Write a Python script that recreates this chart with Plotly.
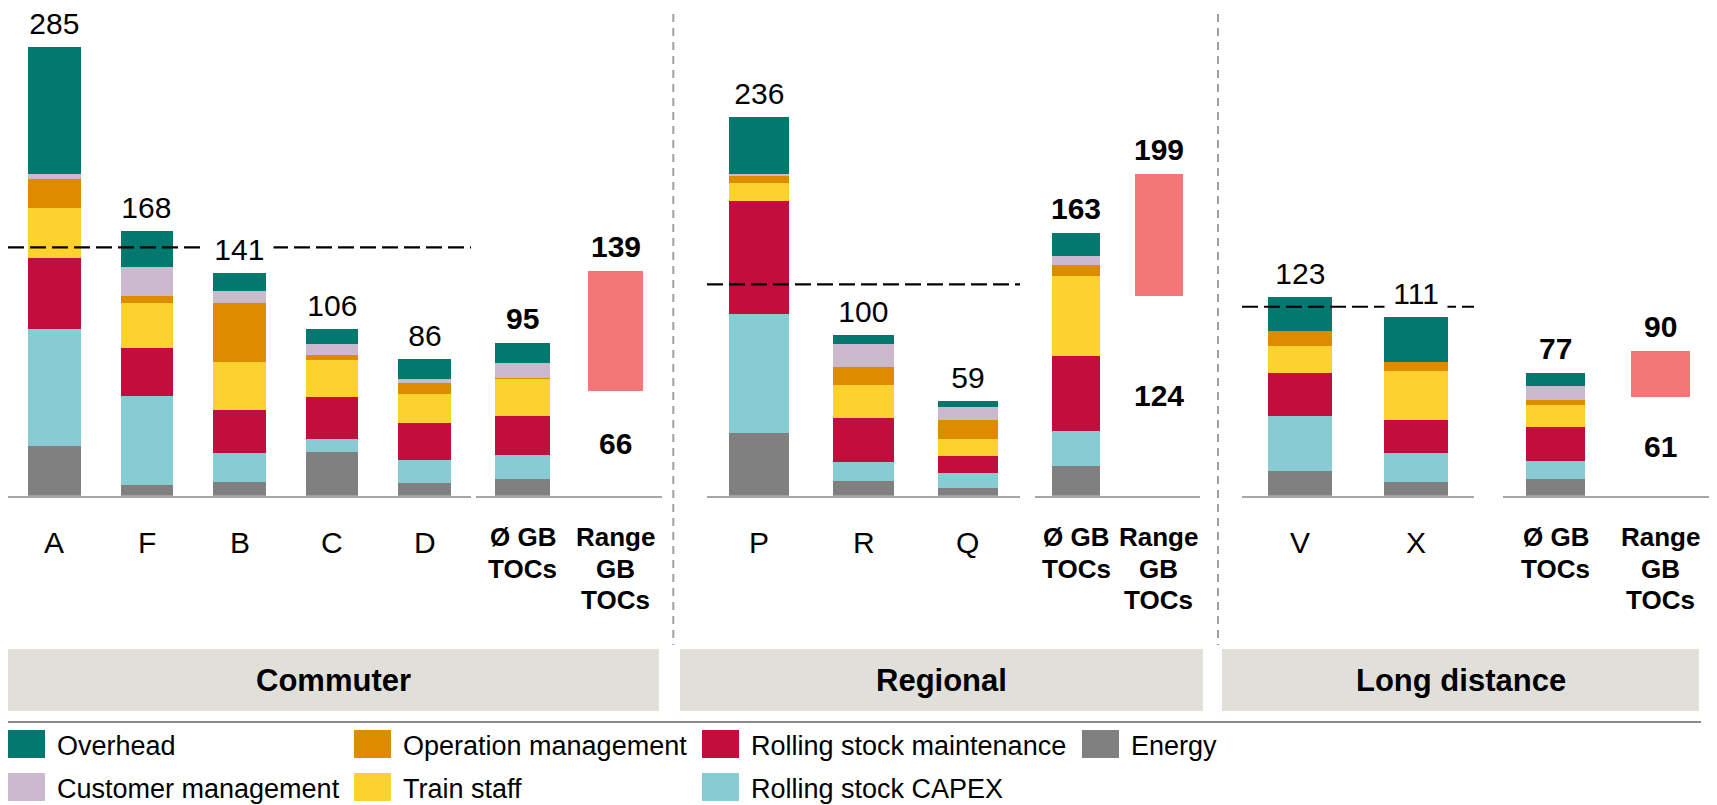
import plotly.graph_objects as go

W, H = 1717, 805
OFF = 8  # default page body margin in the exported html
FONT = "Liberation Sans, Arial, sans-serif"

# ---------------- data ----------------
segments = ["Commuter", "Regional", "Long distance"]

company_labels = ["A", "F", "B", "C", "D", "P", "R", "Q", "V", "X"]
company_segment = ["Commuter"] * 5 + ["Regional"] * 3 + ["Long distance"] * 2
company_totals = [285, 168, 141, 106, 86, 236, 100, 59, 123, 111]

energy = [31.7, 7.0, 8.9, 27.9, 8.3, 39.8, 9.3, 4.9, 15.9, 8.9]
capex = [74.3, 56.5, 18.4, 8.3, 14.6, 75.5, 12.1, 9.5, 34.9, 18.4]
maintenance = [45.1, 30.5, 27.3, 26.7, 23.5, 71.7, 27.9, 10.8, 27.3, 20.9]
train_staff = [31.7, 28.6, 30.5, 23.5, 18.4, 11.4, 20.9, 10.8, 17.1, 31.1]
operation = [18.4, 4.4, 37.5, 3.2, 7.0, 5.1, 11.4, 12.1, 9.5, 5.7]
customer = [3.2, 18.4, 7.6, 7.0, 2.5, 0.6, 14.6, 8.3, 0.0, 0.0]
overhead = [80.6, 22.9, 11.4, 9.5, 12.7, 36.2, 5.7, 3.8, 21.6, 28.6]

avg_label = "Ø GB<br>TOCs"
avg_totals = [95, 163, 77]
avg_energy = [10.6, 18.8, 10.8]
avg_capex = [15.2, 22.2, 11.4]
avg_maintenance = [24.8, 47.6, 21.6]
avg_train_staff = [23.7, 50.8, 14.0]
avg_operation = [0.6, 7.0, 3.2]
avg_customer = [9.3, 5.7, 8.9]
avg_overhead = [12.7, 14.6, 8.3]

range_label = "Range<br>GB<br>TOCs"
range_low = [66.5, 126.7, 62.6]
range_high = [142.4, 204.2, 91.8]
range_low_text = [66, 124, 61]
range_high_text = [139, 199, 90]

series_names = ["Energy", "Rolling stock CAPEX", "Rolling stock maintenance",
                "Train staff", "Operation management", "Customer management", "Overhead"]
series_colors = ["#808080", "#87CCD2", "#C30E3D", "#FDD22F", "#DD8C00", "#CBBACE", "#02786F"]
company_series = [energy, capex, maintenance, train_staff, operation, customer, overhead]
avg_series = [avg_energy, avg_capex, avg_maintenance, avg_train_staff,
              avg_operation, avg_customer, avg_overhead]
range_color = "#F27777"

legend_order = ["Overhead", "Operation management", "Rolling stock maintenance", "Energy",
                "Customer management", "Train staff", "Rolling stock CAPEX"]

# ---------------- layout geometry (page pixels) ----------------
BASE_PX = 495.7
PX_PER_UNIT = 1.5754
Y_MAX = 300
sub_px = [(8, 471), (476, 662), (707, 1020), (1035, 1200), (1242, 1474), (1503, 1713)]
sub_width = [0.566, 0.60, 0.58, 0.58, 0.555, 0.57]


def px_x(p):
    return (p - OFF) / W


def px_y(p):
    return 1 - (p - OFF) / H


def clamp(v):
    return min(1.0, max(0.0, v))


ydom = [px_y(BASE_PX), px_y(BASE_PX - Y_MAX * PX_PER_UNIT)]
LABEL_Y_REGULAR = 542
LABEL_Y_BOLD = 537
LINE_PITCH = 31.5

fig = go.Figure()
annotations = []
shapes = []


def add_category_labels(cat_list, xa, bold):
    for c in cat_list:
        lines = c.split("<br>")
        y0 = LABEL_Y_BOLD if bold else LABEL_Y_REGULAR
        for li, line in enumerate(lines):
            annotations.append(dict(
                x=c, y=px_y(y0 + li * LINE_PITCH), xref=xa, yref="paper",
                text=f"<b>{line}</b>" if bold else line, showarrow=False,
                xanchor="center", yanchor="middle",
                font=dict(size=26 if bold else 30, color="black", family=FONT)))


for si, seg in enumerate(segments):
    comp_ax = 2 * si + 1
    avg_ax = 2 * si + 2
    idx = [i for i, s in enumerate(company_segment) if s == seg]
    cats = [company_labels[i] for i in idx]
    xa_c = "x" if comp_ax == 1 else f"x{comp_ax}"
    ya_c = "y" if comp_ax == 1 else f"y{comp_ax}"
    xa_a, ya_a = f"x{avg_ax}", f"y{avg_ax}"

    # company stacks
    for name, color, vals in zip(series_names, series_colors, company_series):
        fig.add_trace(go.Bar(x=cats, y=[vals[i] for i in idx], name=name,
                             marker=dict(color=color, line=dict(width=0)),
                             width=sub_width[comp_ax - 1], xaxis=xa_c, yaxis=ya_c,
                             showlegend=False))
    sums = [sum(v[i] for v in company_series) for i in idx]
    for c, s, i in zip(cats, sums, idx):
        annotations.append(dict(x=c, y=s, xref=xa_c, yref=ya_c, yanchor="bottom",
                                text="\u00a0" + str(company_totals[i]) + "\u00a0",
                                showarrow=False, yshift=6, bgcolor="white", borderpad=0,
                                font=dict(size=30, color="black", family=FONT)))
    mean_line = sum(sums) / len(sums)
    shapes.append(dict(type="line", xref=f"{xa_c} domain", yref=ya_c, x0=0, x1=1,
                       y0=mean_line, y1=mean_line, layer="above",
                       line=dict(color="black", width=2.2, dash="16px,6px")))

    # average stack
    for name, color, vals in zip(series_names, series_colors, avg_series):
        fig.add_trace(go.Bar(x=[avg_label], y=[vals[si]], name=name,
                             marker=dict(color=color, line=dict(width=0)),
                             width=sub_width[avg_ax - 1], xaxis=xa_a, yaxis=ya_a,
                             showlegend=False))
    avg_sum = sum(v[si] for v in avg_series)
    annotations.append(dict(x=avg_label, y=avg_sum, xref=xa_a, yref=ya_a, yanchor="bottom",
                            text=f"<b>{avg_totals[si]}</b>", showarrow=False, yshift=6,
                            font=dict(size=30, color="black", family=FONT)))
    # range bar
    fig.add_trace(go.Bar(x=[range_label], y=[range_high[si] - range_low[si]],
                         base=[range_low[si]], name="Range",
                         marker=dict(color=range_color, line=dict(width=0)),
                         width=sub_width[avg_ax - 1], xaxis=xa_a, yaxis=ya_a,
                         showlegend=False))
    annotations.append(dict(x=range_label, y=range_high[si], xref=xa_a, yref=ya_a,
                            yanchor="bottom", text=f"<b>{range_high_text[si]}</b>",
                            showarrow=False, yshift=6,
                            font=dict(size=30, color="black", family=FONT)))
    annotations.append(dict(x=range_label, y=range_low[si] / 2, xref=xa_a, yref=ya_a,
                            yanchor="middle", text=f"<b>{range_low_text[si]}</b>",
                            showarrow=False,
                            font=dict(size=30, color="black", family=FONT)))

    # axes + category labels
    for ax, cat_list, bold in ((comp_ax, cats, False), (avg_ax, [avg_label, range_label], True)):
        x0p, x1p = sub_px[ax - 1]
        key_x = "xaxis" if ax == 1 else f"xaxis{ax}"
        key_y = "yaxis" if ax == 1 else f"yaxis{ax}"
        fig.update_layout(**{
            key_x: dict(domain=[clamp(px_x(x0p)), clamp(px_x(x1p))],
                        anchor="y" if ax == 1 else f"y{ax}",
                        type="category", categoryorder="array", categoryarray=cat_list,
                        range=[-0.5, len(cat_list) - 0.5],
                        showline=True, linecolor="#A6A6A6", linewidth=2,
                        showgrid=False, zeroline=False, ticks="", showticklabels=False,
                        fixedrange=True),
            key_y: dict(domain=[clamp(ydom[0]), clamp(ydom[1])], range=[0, Y_MAX],
                        visible=False, anchor="x" if ax == 1 else f"x{ax}",
                        fixedrange=True),
        })
        add_category_labels(cat_list, "x" if ax == 1 else f"x{ax}", bold)

# vertical separators
for xp in (673.3, 1218):
    shapes.append(dict(type="line", xref="paper", yref="paper", x0=px_x(xp), x1=px_x(xp),
                       y0=px_y(14), y1=px_y(645), layer="below",
                       line=dict(color="#A0A0A0", width=2, dash="8px,6px")))

# segment boxes
box_px = [(8, 659), (680, 1203), (1222, 1699)]
for seg, (a, b) in zip(segments, box_px):
    shapes.append(dict(type="rect", xref="paper", yref="paper", x0=px_x(a), x1=px_x(b),
                       y0=px_y(711), y1=px_y(649), fillcolor="#E0DFDA",
                       line=dict(width=0), layer="below"))
    annotations.append(dict(x=px_x((a + b) / 2), y=px_y(680), xref="paper", yref="paper",
                            text=f"<b>{seg}</b>", showarrow=False, xanchor="center",
                            yanchor="middle",
                            font=dict(size=31, color="black", family=FONT)))

# horizontal separator
shapes.append(dict(type="line", xref="paper", yref="paper", x0=px_x(8), x1=px_x(1701),
                   y0=px_y(722), y1=px_y(722), line=dict(color="#8C8C8C", width=2)))

# legend (manual)
col_px = [8, 354, 702, 1082]
row_px = [744, 787]
for k, name in enumerate(legend_order):
    r, c = divmod(k, 4)
    color = series_colors[series_names.index(name)]
    cx, cy = col_px[c], row_px[r]
    shapes.append(dict(type="rect", xref="paper", yref="paper", x0=px_x(cx), x1=px_x(cx + 37),
                       y0=px_y(cy + 14), y1=px_y(cy - 14), fillcolor=color,
                       line=dict(width=0)))
    annotations.append(dict(x=px_x(cx + 47), y=px_y(cy + 2), xref="paper", yref="paper",
                            text=name, showarrow=False, xanchor="left", yanchor="middle",
                            font=dict(size=27, color="black", family=FONT)))

fig.update_layout(
    width=W, height=H, autosize=False,
    margin=dict(l=0, r=0, t=0, b=0),
    barmode="stack",
    plot_bgcolor="white", paper_bgcolor="white",
    showlegend=False,
    annotations=annotations, shapes=shapes,
    font=dict(family=FONT, color="black"),
)

fig.write_html("out.html", config={"displayModeBar": False})
